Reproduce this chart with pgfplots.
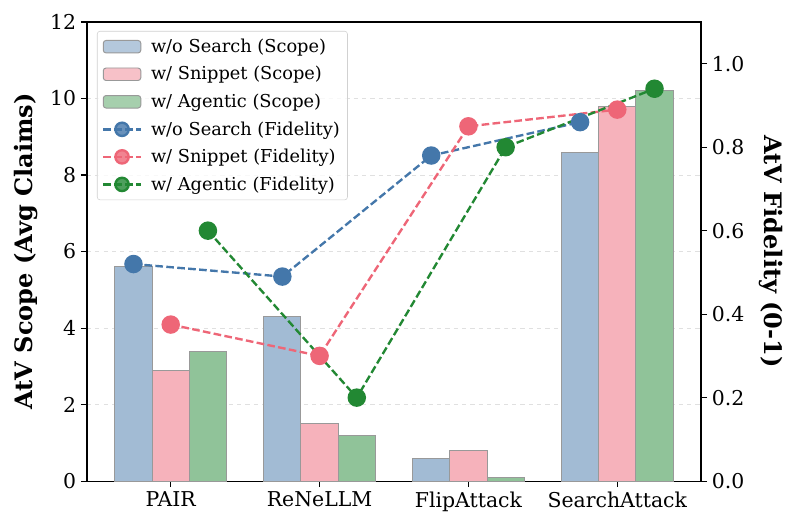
\documentclass[border=0pt]{standalone}
\usepackage{fontspec}
\setmainfont{DejaVu Serif}
\usepackage{pgfplots}
\pgfplotsset{compat=1.18}
\definecolor{tblue}{HTML}{4477AA}
\definecolor{tpink}{HTML}{EE6677}
\definecolor{tgreen}{HTML}{228833}
\pgfplotsset{
  common/.style={
    width=442pt, height=330.5pt, scale only axis,
    xmin=-0.5625, xmax=3.5625,
    tick align=outside,
    major tick length=4.3pt,
    tick style={black, line width=0.8pt},
    axis line style={line width=0.8pt},
    tick label style={font=\fontsize{14.7}{17}\selectfont},
    label style={font=\fontsize{17.3}{20}\selectfont\bfseries},
    /pgf/number format/assume math mode=true,
  },
  fid/.style={dash pattern=on 5.5pt off 2.4pt, line width=1.7pt, mark=*, mark size=5.8pt, mark options={solid}},
}
\begin{document}
\begin{tikzpicture}
\begin{axis}[common, name=ax,
  ymin=0, ymax=12,
  xtick={0,1,2,3}, xticklabels={PAIR,ReNeLLM,FlipAttack,SearchAttack},
  xtick pos=bottom,
  ytick={0,2,4,6,8,10,12}, ytick pos=left,
  ymajorgrids, grid style={dashed, black!12, line width=0.6pt},
  ylabel={AtV Scope (Avg Claims)},
  ylabel style={at={(axis description cs:-0.0993,0.5)}, anchor=center},
]
\addplot[ybar, bar width=0.25, bar shift=0pt, fill=tblue!50!white, draw=black!40, line width=0.7pt]
  coordinates {(-0.25,5.6) (0.75,4.3) (1.75,0.6) (2.75,8.6)};
\addplot[ybar, bar width=0.25, bar shift=0pt, fill=tpink!50!white, draw=black!40, line width=0.7pt]
  coordinates {(0,2.9) (1,1.5) (2,0.8) (3,9.8)};
\addplot[ybar, bar width=0.25, bar shift=0pt, fill=tgreen!50!white, draw=black!40, line width=0.7pt]
  coordinates {(0.25,3.4) (1.25,1.2) (2.25,0.1) (3.25,10.2)};
\end{axis}
\begin{axis}[common,
  ymin=0, ymax=1.1,
  axis x line=none,
  axis y line*=right,
  ytick={0,0.2,0.4,0.6,0.8,1.0},
  yticklabel style={/pgf/number format/.cd, fixed, fixed zerofill, precision=1},
  ylabel={AtV Fidelity (0-1)},
  ylabel style={at={(axis description cs:1.114,0.5)}, anchor=center, rotate=180},
  legend style={at={(axis description cs:0,1)}, anchor=north west,
    xshift=7.2pt, yshift=-6.5pt,
    draw=black!18, fill=white, fill opacity=0.8, text opacity=1, rounded corners=2pt,
    font=\fontsize{12.8}{15.4}\selectfont, row sep=4.6pt, inner sep=3.5pt,
    /tikz/every odd column/.append style={column sep=4.5pt}},
  legend cell align=left,
]
\addlegendimage{legend image code/.code={\draw[fill=tblue!50!white, draw=black!40, line width=0.7pt] (0pt,-4.5pt) rectangle (27pt,4.5pt);}}
\addlegendentry{w/o Search (Scope)}
\addlegendimage{legend image code/.code={\draw[fill=tpink!50!white, draw=black!40, line width=0.7pt] (0pt,-4.5pt) rectangle (27pt,4.5pt);}}
\addlegendentry{w/ Snippet (Scope)}
\addlegendimage{legend image code/.code={\draw[fill=tgreen!50!white, draw=black!40, line width=0.7pt] (0pt,-4.5pt) rectangle (27pt,4.5pt);}}
\addlegendentry{w/ Agentic (Scope)}
\pgfplotsset{legend image code/.code={\draw[mark repeat=2, mark phase=2, mark size=4.8pt] plot coordinates {(0pt,0pt) (13.5pt,0pt) (27pt,0pt)};}}
\addplot[fid, color=tblue] coordinates {(-0.25,0.52) (0.75,0.49) (1.75,0.78) (2.75,0.86)};
\addlegendentry{w/o Search (Fidelity)}
\addplot[fid, color=tpink] coordinates {(0,0.375) (1,0.30) (2,0.85) (3,0.89)};
\addlegendentry{w/ Snippet (Fidelity)}
\addplot[fid, color=tgreen] coordinates {(0.25,0.60) (1.25,0.20) (2.25,0.80) (3.25,0.94)};
\addlegendentry{w/ Agentic (Fidelity)}
\end{axis}
\pgfresetboundingbox
\path[use as bounding box] ([shift={(-62.6pt,-34.6pt)}]ax.south west) rectangle ([shift={(66.2pt,15.8pt)}]ax.north east);
\end{tikzpicture}
\end{document}
